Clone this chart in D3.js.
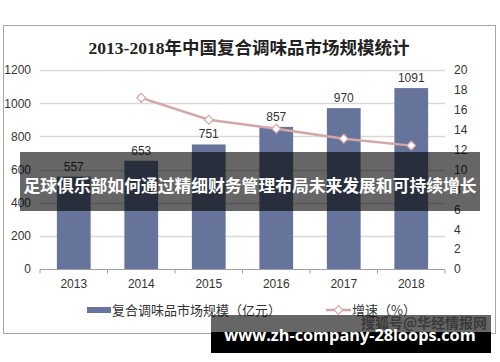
<!DOCTYPE html>
<html lang="zh">
  <head>
    <meta charset="utf-8" />
    <title>复合调味品市场规模</title>
    <script src="https://cdn.jsdelivr.net/npm/d3@7"></script>
    <style>
      body { margin: 0; background: #fff; }
      text { font-family: "Liberation Sans", Arial, "Noto Sans CJK SC", sans-serif; }
    </style>
  </head>
  <body>
    <script>
      // data
      const years = ["2013", "2014", "2015", "2016", "2017", "2018"];
      const marketSize = [557, 653, 751, 857, 970, 1091];
      const growth = [null, 17.2, 15.0, 14.1, 13.1, 12.4];
      const leftTicks = [0, 200, 400, 600, 800, 1000, 1200];
      const rightTicks = [0, 2, 4, 6, 8, 10, 12, 14, 16, 18, 20];

      const W = 500, H = 362;
      const BAR_COLOR = "#66739a";
      const LINE_COLOR = "#d3a7a9";
      const GRID = "#d9d9d9";

      const svg = d3.select("body").append("svg")
        .attr("width", W).attr("height", H);

      // outer frame
      svg.append("rect")
        .attr("x", 3.5).attr("y", 25.5).attr("width", 492).attr("height", 308)
        .attr("fill", "#fff").attr("stroke", "#a6a6a6");

      svg.append("text")
        .attr("x", 249).attr("y", 54)
        .attr("text-anchor", "middle")
        .style("font-family", "'Liberation Serif', 'Noto Sans CJK SC', serif")
        .style("font-weight", "bold").style("font-size", "17.5px")
        .attr("fill", "#222")
        .text("2013-2018年中国复合调味品市场规模统计");

      const x = d3.scaleBand().domain(years).range([40, 445]).paddingInner(0.5).paddingOuter(0.25);
      const yL = d3.scaleLinear().domain([0, 1200]).range([269, 70]);
      const yR = d3.scaleLinear().domain([0, 20]).range([269, 70]);

      // gridlines
      svg.append("g").selectAll("line").data(leftTicks.filter(d => d > 0)).join("line")
        .attr("x1", 40).attr("x2", 445)
        .attr("y1", d => Math.round(yL(d)) + 0.5).attr("y2", d => Math.round(yL(d)) + 0.5)
        .attr("stroke", GRID).attr("stroke-width", 1.5);

      // left axis
      const axL = svg.append("g").attr("transform", "translate(40,0)")
        .call(d3.axisLeft(yL).tickValues(leftTicks).tickFormat(d3.format("d")).tickSize(0).tickPadding(9));
      axL.select(".domain").remove();
      axL.selectAll("text").style("font-size", "12px").attr("fill", "#333");

      // right axis
      const axR = svg.append("g").attr("transform", "translate(445,0)")
        .call(d3.axisRight(yR).tickValues(rightTicks).tickFormat(d3.format("d")).tickSize(0).tickPadding(9));
      axR.select(".domain").remove();
      axR.selectAll("text").style("font-size", "12px").attr("fill", "#333");

      // bars
      svg.append("g").selectAll("rect").data(marketSize).join("rect")
        .attr("x", (d, i) => x(years[i]))
        .attr("width", x.bandwidth())
        .attr("y", d => yL(d))
        .attr("height", d => yL(0) - yL(d))
        .attr("fill", BAR_COLOR);

      svg.append("g").selectAll("text").data(marketSize).join("text")
        .attr("x", (d, i) => x(years[i]) + x.bandwidth() / 2)
        .attr("y", d => yL(d) - 6)
        .attr("text-anchor", "middle")
        .style("font-size", "12px").attr("fill", "#333")
        .text(d => d);

      // x axis
      const axB = svg.append("g").attr("transform", "translate(0,269.5)");
      axB.append("line").attr("x1", 40).attr("x2", 445).attr("stroke", "#a0a0a0");
      const step = x.step();
      axB.selectAll("line.tk").data(d3.range(years.length + 1)).join("line")
        .attr("class", "tk")
        .attr("x1", i => 40 + i * step).attr("x2", i => 40 + i * step)
        .attr("y1", 0).attr("y2", 4).attr("stroke", "#a0a0a0");
      axB.selectAll("text").data(years).join("text")
        .attr("x", d => x(d) + x.bandwidth() / 2)
        .attr("y", 18)
        .attr("text-anchor", "middle")
        .style("font-size", "12px").attr("fill", "#333")
        .text(d => d);

      // growth line
      const pts = growth.map((g, i) => ({ y: years[i], g })).filter(d => d.g != null);
      const line = d3.line()
        .x(d => x(d.y) + x.bandwidth() / 2)
        .y(d => yR(d.g));
      svg.append("path").datum(pts)
        .attr("d", line).attr("fill", "none")
        .attr("stroke", LINE_COLOR).attr("stroke-width", 2.5);
      const diamond = d3.symbol().type(d3.symbolDiamond2).size(50);
      svg.append("g").selectAll("path").data(pts).join("path")
        .attr("d", diamond)
        .attr("transform", d => `translate(${x(d.y) + x.bandwidth() / 2},${yR(d.g)})`)
        .attr("fill", "#fff").attr("stroke", LINE_COLOR).attr("stroke-width", 1.2);

      // legend
      const lg = svg.append("g").attr("transform", "translate(0,310)");
      lg.append("rect").attr("x", 87).attr("y", -3).attr("width", 24).attr("height", 6).attr("fill", BAR_COLOR);
      lg.append("text").attr("x", 112).attr("y", 5)
        .style("font-size", "13px").attr("fill", "#333")
        .style("font-family", "'Noto Sans CJK SC', sans-serif")
        .text("复合调味品市场规模（亿元）");
      lg.append("line").attr("x1", 326).attr("x2", 351).attr("y1", 0).attr("y2", 0)
        .attr("stroke", LINE_COLOR).attr("stroke-width", 2.5);
      lg.append("path").attr("d", diamond).attr("transform", "translate(338.5,0)")
        .attr("fill", "#fff").attr("stroke", LINE_COLOR).attr("stroke-width", 1.2);
      lg.append("text").attr("x", 352).attr("y", 5)
        .style("font-size", "13px").attr("fill", "#333")
        .style("font-family", "'Noto Sans CJK SC', sans-serif")
        .text("增速（%）");

      // headline overlay band
      svg.append("rect").attr("x", 20).attr("y", 152).attr("width", 460).attr("height", 59)
        .attr("fill", "rgba(0,0,0,0.6)");
      svg.append("text").attr("x", 250).attr("y", 192)
        .attr("text-anchor", "middle")
        .style("font-family", "'Noto Sans CJK SC', sans-serif")
        .style("font-weight", "bold").style("font-size", "16.8px")
        .attr("fill", "#fff")
        .text("足球俱乐部如何通过精细财务管理布局未来发展和可持续增长");

      // bottom watermark
      svg.append("rect").attr("x", 211).attr("y", 315).attr("width", 280).attr("height", 17)
        .attr("fill", "rgba(0,0,0,0.6)");
      svg.append("text").attr("x", 487).attr("y", 328)
        .attr("text-anchor", "end")
        .style("font-family", "'Noto Sans CJK SC', sans-serif")
        .style("font-weight", "bold").style("font-size", "14px")
        .attr("fill", "#3a3a3a")
        .text("搜狐号@华经情报网");
      svg.append("rect").attr("x", 211).attr("y", 332).attr("width", 280).attr("height", 21)
        .attr("fill", "#000");
      svg.append("text").attr("x", 350).attr("y", 341)
        .attr("text-anchor", "middle")
        .style("font-family", "'Open Sans', 'DejaVu Sans', sans-serif")
        .style("font-weight", "bold").style("font-size", "16.3px")
        .attr("fill", "#fff")
        .text("www.zh-company-28loops.com");
    </script>
  </body>
</html>
